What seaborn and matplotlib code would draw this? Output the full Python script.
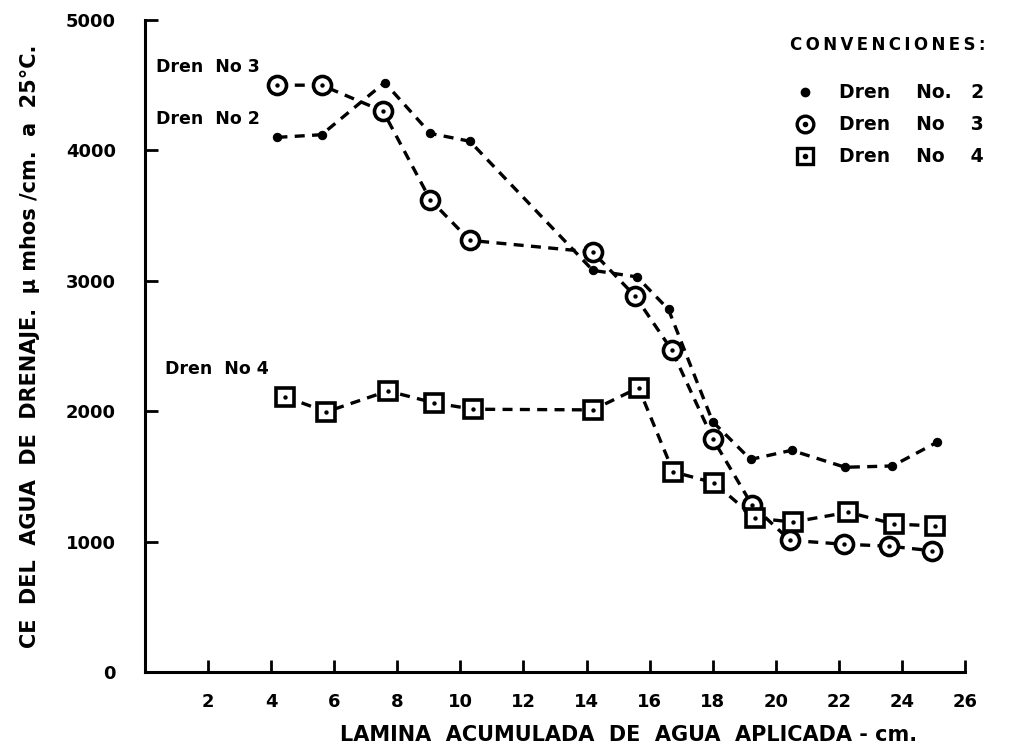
import numpy as np
import pandas as pd
import seaborn as sns
import matplotlib
matplotlib.use("Agg")
import matplotlib.pyplot as plt
from matplotlib.lines import Line2D
from matplotlib.legend_handler import HandlerTuple

# values
x_dren2 = [4.2, 5.6, 7.6, 9.05, 10.3, 14.2, 15.6, 16.6, 18.0, 19.2, 20.5, 22.2, 23.7, 25.1]
y_dren2 = [4100, 4120, 4520, 4130, 4070, 3080, 3030, 2780, 1920, 1630, 1700, 1570, 1580, 1760]

x_dren3 = [4.2, 5.6, 7.55, 9.05, 10.3, 14.2, 15.55, 16.7, 18.0, 19.25, 20.45, 22.15, 23.6, 24.95]
y_dren3 = [4500, 4500, 4300, 3620, 3310, 3220, 2880, 2470, 1790, 1280, 1010, 980, 965, 930]

x_dren4 = [4.45, 5.75, 7.7, 9.15, 10.4, 14.2, 15.65, 16.75, 18.05, 19.35, 20.55, 22.3, 23.75, 25.05]
y_dren4 = [2110, 1995, 2155, 2065, 2015, 2010, 2180, 1535, 1450, 1180, 1150, 1225, 1135, 1120]

x_ticks = [2, 4, 6, 8, 10, 12, 14, 16, 18, 20, 22, 24, 26]
y_ticks = [0, 1000, 2000, 3000, 4000, 5000]

sns.set_style("ticks")
plt.rcParams["font.family"] = ["DejaVu Sans"]
plt.rcParams["font.weight"] = "bold"
for k in ["text.color", "axes.labelcolor", "xtick.color", "ytick.color", "axes.edgecolor"]:
    plt.rcParams[k] = "black"

fig = plt.figure(figsize=(10.18, 7.48), dpi=100)
ax = fig.add_axes([0.1424, 0.1016, 0.8055, 0.8717])

lw = 2.4
dash = (3, 2.2)

d2 = pd.DataFrame({"x": x_dren2, "y": y_dren2})
d3 = pd.DataFrame({"x": x_dren3, "y": y_dren3})
d4 = pd.DataFrame({"x": x_dren4, "y": y_dren4})

sns.lineplot(data=d2, x="x", y="y", ax=ax, color="black", lw=lw,
             marker="o", markersize=6, markeredgecolor="black")
sns.lineplot(data=d3, x="x", y="y", ax=ax, color="black", lw=lw,
             marker="o", markersize=13, markerfacecolor="white",
             markeredgecolor="black", markeredgewidth=2.6)
sns.lineplot(data=d4, x="x", y="y", ax=ax, color="black", lw=lw,
             marker="s", markersize=12.5, markerfacecolor="white",
             markeredgecolor="black", markeredgewidth=2.6)
for ln in ax.lines:
    ln.set_linestyle((0, dash))

# centre dots of open markers
sns.scatterplot(data=d3, x="x", y="y", ax=ax, color="black", s=10, zorder=5, linewidth=0)
sns.scatterplot(data=d4, x="x", y="y", ax=ax, color="black", s=10, zorder=5, linewidth=0)

ax.set_xlim(0, 26)
ax.set_ylim(0, 5000)
ax.set_xticks(x_ticks)
ax.set_yticks(y_ticks)
ax.tick_params(axis="both", direction="in", length=9, width=2, labelsize=13)
ax.tick_params(axis="x", pad=15)
ax.tick_params(axis="y", pad=21)
for lab in ax.get_xticklabels() + ax.get_yticklabels():
    lab.set_fontweight("bold")
for s in ["left", "bottom"]:
    ax.spines[s].set_linewidth(2.2)
sns.despine(ax=ax)

ax.set_xlabel("LAMINA  ACUMULADA  DE  AGUA  APLICADA - cm.", fontsize=15,
              fontweight="bold", va="center")
ax.xaxis.set_label_coords(0.59, -0.096)
ax.set_ylabel("CE  DEL  AGUA  DE  DRENAJE.  µ mhos /cm.  a  25°C.", fontsize=15,
              fontweight="bold")
ax.yaxis.set_label_coords(-0.128, 0.5)

lab_kw = dict(fontsize=12.5, fontweight="bold", color="black", va="center")
ax.text(0.35, 4640, "Dren  No 3", **lab_kw)
ax.text(0.35, 4240, "Dren  No 2", **lab_kw)
ax.text(0.65, 2320, "Dren  No 4", **lab_kw)

ax.text(0.787, 0.962, "C\u2009O\u2009N\u2009V\u2009E\u2009N\u2009C\u2009I\u2009O\u2009N\u2009E\u2009S\u2009:",
        transform=ax.transAxes, fontsize=12, fontweight="bold", va="center")

h2 = Line2D([], [], color="black", marker="o", markersize=6, linestyle="none")
h3a = Line2D([], [], color="black", marker="o", markersize=12, markerfacecolor="white",
             markeredgewidth=2.4, linestyle="none")
h4a = Line2D([], [], color="black", marker="s", markersize=12, markerfacecolor="white",
             markeredgewidth=2.4, linestyle="none")
hdot = Line2D([], [], color="black", marker="o", markersize=3, linestyle="none")
leg = ax.legend([h2, (h3a, hdot), (h4a, hdot)],
                ["Dren    No.   2", "Dren    No    3", "Dren    No    4"],
                handler_map={tuple: HandlerTuple(ndivide=1)},
                loc="upper left", bbox_to_anchor=(0.7915, 0.903), frameon=False,
                prop={"weight": "bold", "size": 13.5}, handlelength=1.2,
                handletextpad=1.2, labelspacing=0.70, borderpad=0, borderaxespad=0)

fig.savefig("out.png", dpi=100, facecolor="white")
